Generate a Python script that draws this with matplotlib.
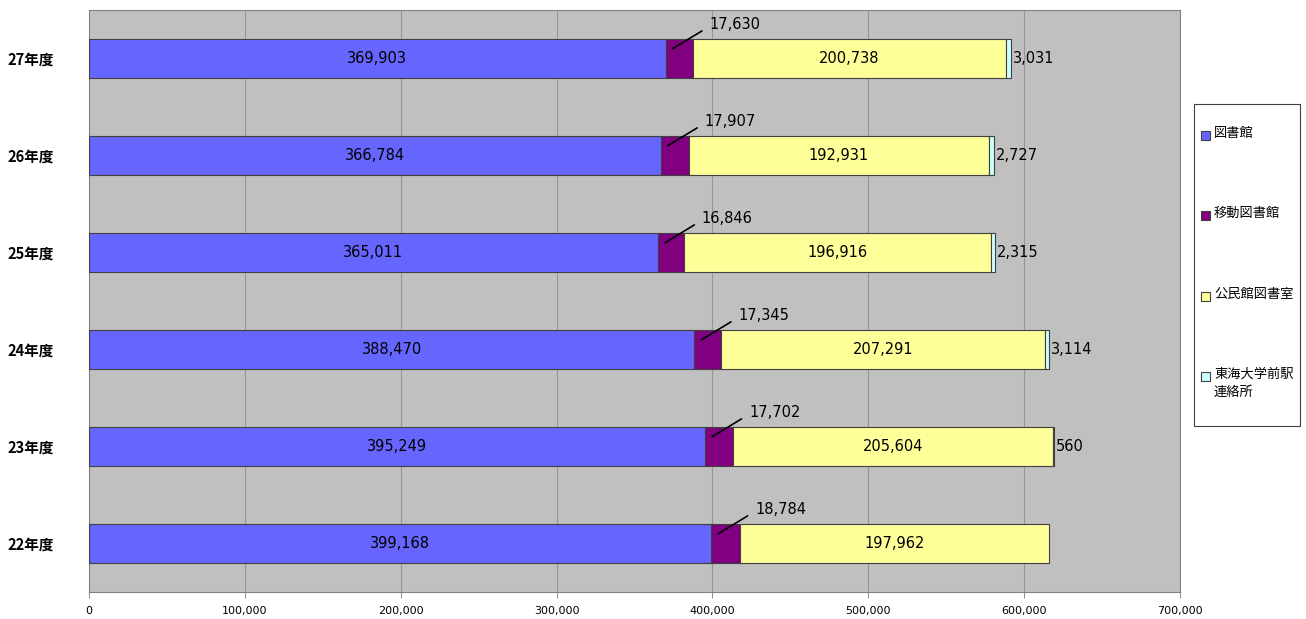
import numpy as np
import matplotlib
matplotlib.use('Agg')
import matplotlib.pyplot as plt
from matplotlib.patches import Rectangle

plt.rcParams['font.family'] = ['Noto Sans CJK JP', 'DejaVu Sans']

# data (bottom to top)
years = ['22年度', '23年度', '24年度', '25年度', '26年度', '27年度']
library = [399168, 395249, 388470, 365011, 366784, 369903]
mobile = [18784, 17702, 17345, 16846, 17907, 17630]
kominkan = [197962, 205604, 207291, 196916, 192931, 200738]
tokai = [0, 560, 3114, 2315, 2727, 3031]

names = ['図書館', '移動図書館', '公民館図書室', '東海大学前駅\n連絡所']
colors = ['#6666FF', '#800080', '#FFFF99', '#CCFFFF']

W, H = 1306, 619
fig = plt.figure(figsize=(W / 100, H / 100), dpi=100)
ax = fig.add_axes([89/W, 1 - 592/H, (1180-89)/W, (592-10)/H])
ax.set_facecolor('#C0C0C0')

y = np.arange(len(years))
h = 0.4
lib = np.array(library)
mob = np.array(mobile)
kom = np.array(kominkan)
tok = np.array(tokai)

ax.barh(y, lib, h, color=colors[0], edgecolor='#404040', linewidth=0.8, zorder=3)
ax.barh(y, mob, h, left=lib, color=colors[1], edgecolor='#404040', linewidth=0.8, zorder=3)
ax.barh(y, kom, h, left=lib + mob, color=colors[2], edgecolor='#404040', linewidth=0.8, zorder=3)
for i in range(len(years)):
    if tok[i] > 0:
        ax.barh(y[i], tok[i], h, left=lib[i] + mob[i] + kom[i], color=colors[3],
                edgecolor='#404040', linewidth=0.8, zorder=3)

fs = 10.5
for i in range(len(years)):
    ax.text(lib[i] / 2, y[i], f'{lib[i]:,}', ha='center', va='center', fontsize=fs,
            family='DejaVu Sans', zorder=4)
    ax.text(lib[i] + mob[i] + kom[i] / 2, y[i], f'{kom[i]:,}', ha='center', va='center',
            fontsize=fs, family='DejaVu Sans', zorder=4)
    ax.annotate(f'{mob[i]:,}', xy=(lib[i] + 4500, y[i] + 0.1), xytext=(37, 24),
                textcoords='offset pixels', ha='left', va='center', fontsize=fs,
                family='DejaVu Sans', zorder=5,
                arrowprops=dict(arrowstyle='-', color='black', lw=1.2, relpos=(0, 0.4),
                                shrinkA=4, shrinkB=0))
    if tok[i] > 0:
        ax.text(lib[i] + mob[i] + kom[i] + tok[i] + 1200, y[i], f'{tok[i]:,}',
                ha='left', va='center', fontsize=fs, family='DejaVu Sans', zorder=4)

ax.set_xlim(0, 700000)
ax.set_ylim(-0.5, len(years) - 0.5)
ax.set_xticks(np.arange(0, 700001, 100000))
ax.set_xticklabels([f'{v:,}' for v in range(0, 700001, 100000)], fontsize=8,
                   family='DejaVu Sans')
ax.set_yticks(y)
ax.set_yticklabels(years, fontsize=10.5, fontweight='bold')
ax.tick_params(axis='y', length=0, pad=25)
ax.tick_params(axis='x', length=4, color='#969696', pad=6)
ax.grid(axis='x', color='#969696', linewidth=0.8, zorder=1)
for s in ax.spines.values():
    s.set_color('#808080')

# legend box drawn by hand to match the layout
fig.patches.append(Rectangle((1194/W, 1 - 426/H), 106/W, 322/H, transform=fig.transFigure,
                             facecolor='white', edgecolor='#404040', linewidth=0.8))
entry_y = [135, 215, 296, 376]
for name, c, ey in zip(names, colors, entry_y):
    fig.patches.append(Rectangle((1201/W, 1 - (ey + 4.5)/H), 9/W, 9/H,
                                 transform=fig.transFigure, facecolor=c,
                                 edgecolor='#404040', linewidth=0.8))
    fig.text(1214/W, 1 - (ey - 8)/H, name, ha='left', va='top', fontsize=9.5,
             linespacing=1.45)

fig.savefig('out.png', dpi=100)
